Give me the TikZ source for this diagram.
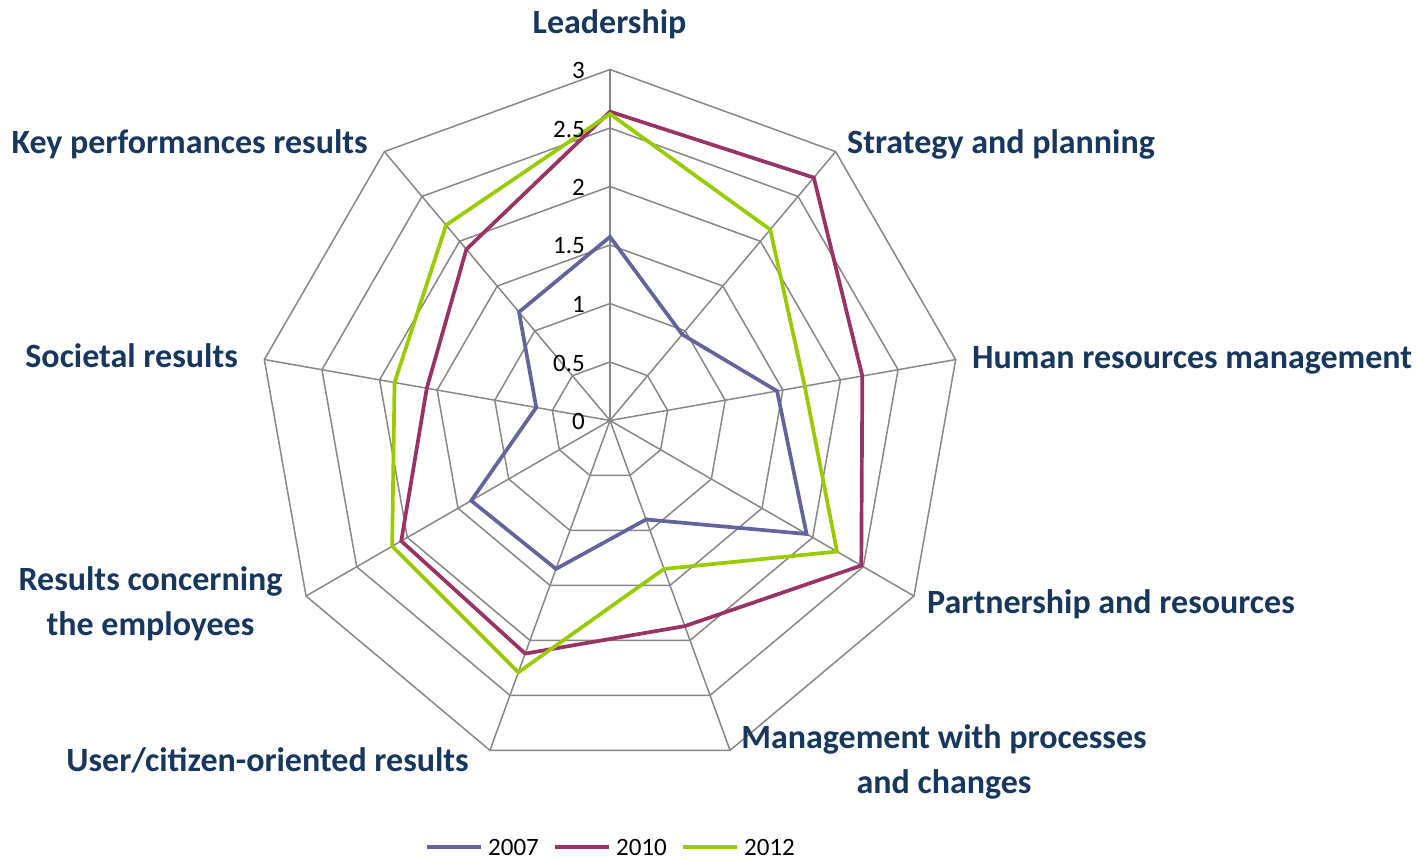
\documentclass[tikz,border=0pt]{standalone}
\usepackage{fontspec}
\setmainfont{Carlito}
\definecolor{gridc}{HTML}{878787}
\definecolor{labc}{HTML}{17375E}
\definecolor{cA}{HTML}{64649C}
\definecolor{cB}{HTML}{993366}
\definecolor{cC}{HTML}{99CC00}
\begin{document}
\begin{tikzpicture}[x=1pt,y=-1pt,
  gridline/.style={draw=gridc,line width=1.5pt},
  series/.style={line width=3.7pt,line join=miter},
  axlabel/.style={font=\fontsize{34}{45}\selectfont\bfseries,text=labc,inner sep=0pt},
  tick/.style={font=\fontsize{25}{25}\selectfont,inner sep=0pt}]
\useasboundingbox (0,0) rectangle (1418,859);
\coordinate (O) at (610,420.5);
% rings
\foreach \r in {0.5,1,...,3}
  \draw[gridline] plot[samples at={90,50,...,-230}] ({610+117*\r*cos(\x)},{420.5-117*\r*sin(\x)}) -- cycle;
% spokes
\foreach \a [count=\k from 0] in {90,50,...,-230} {
  \coordinate (s\k) at ({610+351*cos(\a)},{420.5-351*sin(\a)});
  \draw[gridline] (O) -- (s\k);
}
% data
\foreach \v [count=\i from 0] in {1.57,0.96,1.45,1.94,0.90,1.35,1.37,0.64,1.21}
  \coordinate (a\i) at ({610+117*\v*cos(90-40*\i)},{420.5-117*\v*sin(90-40*\i)});
\foreach \v [count=\i from 0] in {2.64,2.71,2.19,2.48,1.87,2.12,2.06,1.59,1.91}
  \coordinate (b\i) at ({610+117*\v*cos(90-40*\i)},{420.5-117*\v*sin(90-40*\i)});
\foreach \v [count=\i from 0] in {2.62,2.13,1.69,2.24,1.35,2.29,2.15,1.87,2.18}
  \coordinate (c\i) at ({610+117*\v*cos(90-40*\i)},{420.5-117*\v*sin(90-40*\i)});
\draw[series,cA] (a0)--(a1)--(a2)--(a3)--(a4)--(a5)--(a6)--(a7)--(a8)--cycle;
\draw[series,cB] (b0)--(b1)--(b2)--(b3)--(b4)--(b5)--(b6)--(b7)--(b8)--cycle;
\draw[series,cC] (c0)--(c1)--(c2)--(c3)--(c4)--(c5)--(c6)--(c7)--(c8)--cycle;
% tick labels
\foreach \t/\lab [count=\j] in {0/0,0.5/0.5,1/1,1.5/1.5,2/2,2.5/2.5,3/3}
  \node[tick,anchor=east] (t\j) at (585,{421.5-117*\t}) {\lab};
% axis labels
\node[axlabel,anchor=base] (lead) at (609.5,34) {Leadership};
\node[axlabel,anchor=base west] (strat) at (847,153) {Strategy and planning};
\node[axlabel,anchor=base west] (hr) at (972,368) {Human resources management};
\node[axlabel,anchor=base west] (part) at (927,613) {Partnership and resources};
\node[axlabel,align=center,anchor=base] (mgmt) at (944,793) {Management with processes\\and changes};
\node[axlabel,anchor=base east] (user) at (469,771) {User/citizen-oriented results};
\node[axlabel,align=center,anchor=base] (emp) at (150.5,635) {Results concerning\\the employees};
\node[axlabel,anchor=base east] (soc) at (238,367) {Societal results};
\node[axlabel,anchor=base east] (key) at (368,153) {Key performances results};
% legend
\coordinate (la1) at (427,847); \coordinate (la2) at (481,847);
\coordinate (lb1) at (555,847); \coordinate (lb2) at (609,847);
\coordinate (lc1) at (683,847); \coordinate (lc2) at (737,847);
\draw[series,cA] (la1) -- (la2);
\draw[series,cB] (lb1) -- (lb2);
\draw[series,cC] (lc1) -- (lc2);
\node[tick,anchor=base west] (ta) at (488,855) {2007};
\node[tick,anchor=base west] (tb) at (616,855) {2010};
\node[tick,anchor=base west] (tc) at (744,855) {2012};
\end{tikzpicture}
\end{document}
